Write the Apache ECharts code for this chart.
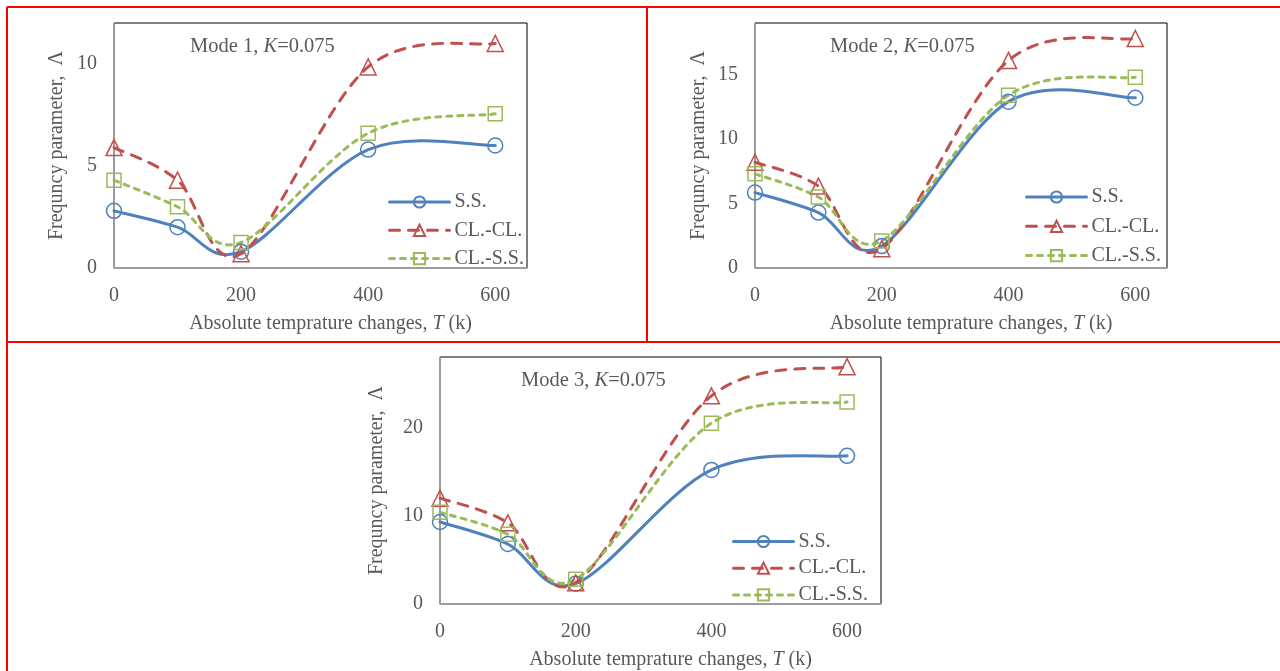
<!DOCTYPE html>
<html>
<head>
<meta charset="utf-8">
<script src="https://cdn.jsdelivr.net/npm/echarts@6/dist/echarts.min.js"></script>
<style>
  html, body { margin: 0; padding: 0; background: #fff; }
  #chart { width: 1280px; height: 671px; }
</style>
</head>
<body>
<div id="chart"></div>
<script>
// temperatures (k) on the x axis
const temps = [0, 100, 200, 400, 600]
const xTicks = [0, 200, 400, 600]

// frequency parameter
const mode1SS = [2.8, 2.0, 0.8, 5.8, 6.0]
const mode1ClCl = [5.9, 4.3, 0.7, 9.85, 11.0]
const mode1ClSs = [4.3, 3.0, 1.25, 6.6, 7.55]

const mode2SS = [5.85, 4.3, 1.7, 12.9, 13.2]
const mode2ClCl = [8.2, 6.35, 1.5, 16.1, 17.8]
const mode2ClSs = [7.3, 5.5, 2.1, 13.4, 14.8]

const mode3SS = [9.3, 6.8, 2.3, 15.2, 16.8]
const mode3ClCl = [12.0, 9.2, 2.4, 23.6, 26.9]
const mode3ClSs = [10.4, 7.9, 2.8, 20.5, 22.9]

const modeNames = ['Mode 1', 'Mode 2', 'Mode 3']
const yMax = [12, 19, 28]
const yStep = [5, 5, 10]

const seriesNames = ['S.S.', 'CL.-CL.', 'CL.-S.S.']

const font = 'Liberation Serif'
const textColor = '#595959'
const colors = ['#4F81BD', '#C0504D', '#9BBB59']

// layout of the three plots (px)
const grids = [
  { left: 114, top: 23, width: 413, height: 245 },
  { left: 755, top: 23, width: 412, height: 245 },
  { left: 440, top: 357, width: 441, height: 247 }
]
const legendPos = [
  { left: 388, top: 192, itemGap: 8.3 },
  { left: 1025, top: 187, itemGap: 9.3 },
  { left: 732, top: 531.5, itemGap: 6.7 }
]
const titlePos = [
  { left: 190, top: 36 },
  { left: 830, top: 36 },
  { left: 521, top: 370 }
]
const yNameGap = [47, 46, 53]

const modeData = [
  [mode1SS, mode1ClCl, mode1ClSs],
  [mode2SS, mode2ClCl, mode2ClSs],
  [mode3SS, mode3ClCl, mode3ClSs]
]

const pairs = (ys) => temps.map((t, i) => [t, ys[i]])

const dashes = [null, [10, 9], [5, 6]]
const symbols = ['circle', 'triangle', 'rect']
const symbolSizes = [15, 16, 14]

const richText = {
  n: { fontFamily: font, fontSize: 20, color: textColor, fontWeight: 'normal' },
  i: { fontFamily: font, fontSize: 20, color: textColor, fontStyle: 'italic', fontWeight: 'normal' }
}
const titleRich = {
  n: { fontFamily: font, fontSize: 20.5, color: textColor, fontWeight: 'normal' },
  i: { fontFamily: font, fontSize: 20.5, color: textColor, fontStyle: 'italic', fontWeight: 'normal' }
}

// smoothed line like the spreadsheet one: bezier through the points,
// tangent at each point = (next - prev) / 6, all in pixel space
function smoothPath(api, ys) {
  const pts = ys.map((y, k) => api.coord([temps[k], y]))
  let d = 'M' + pts[0][0] + ' ' + pts[0][1]
  for (let i = 1; i < pts.length; i++) {
    const p0 = pts[Math.max(i - 2, 0)]
    const p1 = pts[i - 1]
    const p2 = pts[i]
    const p3 = pts[Math.min(i + 1, pts.length - 1)]
    const c1x = p1[0] + (p2[0] - p0[0]) / 6
    const c1y = p1[1] + (p2[1] - p0[1]) / 6
    const c2x = p2[0] - (p3[0] - p1[0]) / 6
    const c2y = p2[1] - (p3[1] - p1[1]) / 6
    d += ' C' + c1x + ' ' + c1y + ' ' + c2x + ' ' + c2y + ' ' + p2[0] + ' ' + p2[1]
  }
  return d
}

const option = {
  backgroundColor: '#fff',
  animation: false,
  title: [],
  legend: [],
  grid: [],
  xAxis: [],
  yAxis: [],
  series: [],
  graphic: []
}

modeData.forEach((group, m) => {
  option.grid.push(Object.assign({
    show: true,
    borderColor: '#000',
    borderWidth: 1,
    backgroundColor: '#fff'
  }, grids[m]))

  option.title.push({
    text: '{n|' + modeNames[m] + ', }{i|K}{n|=0.075}',
    left: titlePos[m].left,
    top: titlePos[m].top,
    padding: 0,
    textStyle: { fontWeight: 'normal', rich: titleRich }
  })

  option.xAxis.push({
    type: 'value',
    gridIndex: m,
    min: 0,
    max: 650,
    interval: 200,
    name: '{n|Absolute temprature changes, }{i|T}{n| (k)}',
    nameLocation: 'middle',
    nameGap: 46,
    nameTextStyle: { rich: richText, padding: [0, 0, 0, 20] },
    axisLine: { lineStyle: { color: '#A6A6A6', width: 1.5 } },
    axisTick: { show: false },
    splitLine: { show: false },
    axisLabel: {
      margin: 18,
      fontFamily: font,
      fontSize: 20,
      color: textColor,
      formatter: v => (xTicks.indexOf(v) >= 0 ? String(v) : '')
    }
  })

  option.yAxis.push({
    type: 'value',
    gridIndex: m,
    min: 0,
    max: yMax[m],
    interval: yStep[m],
    name: 'Frequncy parameter,  Λ',
    nameLocation: 'middle',
    nameRotate: 90,
    nameGap: yNameGap[m],
    nameTextStyle: { fontFamily: font, fontSize: 20, color: textColor },
    axisLine: { show: true, lineStyle: { color: '#A6A6A6', width: 1.5 } },
    axisTick: { show: false },
    splitLine: { show: false },
    axisLabel: {
      margin: 17,
      fontFamily: font,
      fontSize: 20,
      color: textColor,
      formatter: v => (v % yStep[m] === 0 ? String(v) : '')
    }
  })

  option.legend.push({
    orient: 'vertical',
    left: legendPos[m].left,
    top: legendPos[m].top,
    padding: 0,
    itemGap: legendPos[m].itemGap,
    itemWidth: 60,
    itemHeight: 14,
    selectedMode: false,
    data: seriesNames.map((name, s) => ({
      name: name,
      lineStyle: {
        color: colors[s],
        width: 3,
        opacity: 1,
        type: dashes[s] || 'solid',
        cap: 'round'
      }
    })),
    textStyle: { fontFamily: font, fontSize: 20, color: textColor, lineHeight: 19 }
  })

  group.forEach((ys, s) => {
    // the smooth line itself
    option.series.push({
      name: seriesNames[s] + ' line',
      type: 'custom',
      xAxisIndex: m,
      yAxisIndex: m,
      data: pairs(ys),
      silent: true,
      z: 1,
      renderItem: function(params, api) {
        if (params.dataIndex !== ys.length - 1) return null
        return {
          type: 'path',
          shape: { pathData: smoothPath(api, ys) },
          style: {
            fill: null,
            stroke: colors[s],
            lineWidth: 3,
            lineDash: dashes[s],
            lineCap: 'round'
          }
        }
      }
    })
    // the markers (hollow)
    option.series.push({
      name: seriesNames[s],
      type: 'line',
      xAxisIndex: m,
      yAxisIndex: m,
      data: pairs(ys),
      symbol: symbols[s],
      symbolSize: symbolSizes[s],
      lineStyle: { width: 0, opacity: 0 },
      itemStyle: {
        color: 'rgba(255,255,255,0)',
        borderColor: colors[s],
        borderWidth: 1.5
      },
      z: 3
    })
  })
})

// red table borders around the figures
const red = { stroke: '#FF0000', lineWidth: 2 }
option.graphic = [
  { type: 'line', shape: { x1: 7, y1: 7, x2: 1280, y2: 7 }, style: red },
  { type: 'line', shape: { x1: 7, y1: 7, x2: 7, y2: 671 }, style: red },
  { type: 'line', shape: { x1: 647, y1: 7, x2: 647, y2: 342 }, style: red },
  { type: 'line', shape: { x1: 7, y1: 342, x2: 1280, y2: 342 }, style: red }
]

const chart = echarts.init(document.getElementById('chart'))
chart.setOption(option)
</script>
</body>
</html>
